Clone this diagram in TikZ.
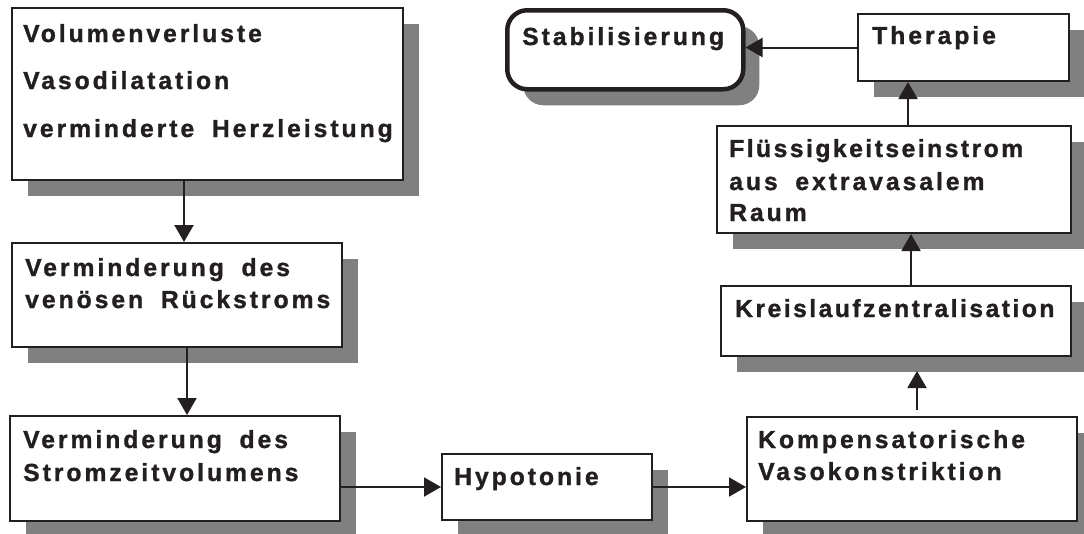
\documentclass[tikz,border=0pt]{standalone}
\usepackage{fontspec}
\newfontfamily\lab[LetterSpace=12,WordSpace=1.8,FakeBold=1.2]{Liberation Sans Bold}
\newfontfamily\labn[LetterSpace=10,WordSpace=1.8,FakeBold=1.2]{Liberation Sans Bold}
\usetikzlibrary{arrows.meta,shadows}
\definecolor{ink}{HTML}{231F20}
\definecolor{shade}{HTML}{808080}
\begin{document}
\begin{tikzpicture}[x=1pt,y=-1pt,
  box/.style={draw=ink, line width=2pt, fill=white, inner sep=0pt, anchor=north west,
    drop shadow={shadow xshift=16pt, shadow yshift=-16pt, fill=shade, opacity=1}},
  lbl/.style={anchor=base west, inner sep=0pt, text=ink, font=\lab\fontsize{24.7}{30}\selectfont},
  lbln/.style={lbl, font=\labn\fontsize{24.7}{30}\selectfont},
  arr/.style={draw=ink, line width=2pt, -{Triangle[length=17pt,width=19pt]}}]
\useasboundingbox (0,0) rectangle (1084,533);

% boxes
\node[box, minimum width=391pt, minimum height=172pt] (b1) at (11,7) {};
\node[box, minimum width=330pt, minimum height=104pt] (b2) at (11,242) {};
\node[box, minimum width=330pt, minimum height=105pt] (b3) at (9,415) {};
\node[box, minimum width=210pt, minimum height=66pt] (hy) at (441,453) {};
\node[box, minimum width=330pt, minimum height=104pt] (k) at (746,416) {};
\node[box, minimum width=350pt, minimum height=70pt] (kr) at (720,285) {};
\node[box, minimum width=354pt, minimum height=107pt] (f) at (716,125) {};
\node[box, minimum width=211pt, minimum height=67pt] (t) at (857,13) {};
\node[box, line width=4.5pt, rounded corners=20pt, minimum width=236pt, minimum height=79pt] (s) at (505,8) {};

% labels
\node[lbl] (b1l1) at ([shift={(12,35)}]b1.north west) {Volumenverluste};
\node[lbl] (b1l2) at ([shift={(12,82)}]b1.north west) {Vasodilatation};
\node[lbl] (b1l3) at ([shift={(12,130)}]b1.north west) {verminderte Herzleistung};
\node[lbl] (b2l1) at ([shift={(14,34)}]b2.north west) {Verminderung des};
\node[lbl] (b2l2) at ([shift={(14,66)}]b2.north west) {venösen Rückstroms};
\node[lbl] (b3l1) at ([shift={(14,33)}]b3.north west) {Verminderung des};
\node[lbl] (b3l2) at ([shift={(14,66)}]b3.north west) {Stromzeitvolumens};
\node[lbl] (hyl) at ([shift={(13,32)}]hy.north west) {Hypotonie};
\node[lbl] (kl1) at ([shift={(12,32)}]k.north west) {Kompensatorische};
\node[lbl] (kl2) at ([shift={(12,64)}]k.north west) {Vasokonstriktion};
\node[lbln] (krl) at ([shift={(15,32)}]kr.north west) {Kreislaufzentralisation};
\node[lbln] (fl1) at ([shift={(13,32)}]f.north west) {Flüssigkeitseinstrom};
\node[lbl] (fl2) at ([shift={(13,65)}]f.north west) {aus extravasalem};
\node[lbl] (fl3) at ([shift={(13,96)}]f.north west) {Raum};
\node[lbl] (tl) at ([shift={(15,31)}]t.north west) {Therapie};
\node[lbl] (sl) at ([shift={(17,37)}]s.north west) {Stabilisierung};

% connectors
\path ([xshift=173pt]b1.south west) coordinate (a1);
\draw[arr] (a1) -- (a1 |- b2.north);
\path ([xshift=176pt]b2.south west) coordinate (a2);
\draw[arr] (a2) -- (a2 |- b3.north);
\draw[arr] (b3.east |- hy.west) -- (hy.west);
\draw[arr] (hy.east) -- (hy.east -| k.west);
\path ([xshift=171pt]k.north west) coordinate (c1);
\path (c1 |- kr.south) coordinate (c2);
\draw[arr] ([yshift=6pt]c1) -- ([yshift=-14pt]c2);
\path ([xshift=191pt]kr.north west) coordinate (a3);
\draw[arr] (a3) -- (a3 |- f.south);
\path ([xshift=192pt]f.north west) coordinate (a4);
\draw[arr] (a4) -- (a4 |- t.south);
\draw[arr] (t.west) -- (t.west -| s.east);
\end{tikzpicture}
\end{document}
